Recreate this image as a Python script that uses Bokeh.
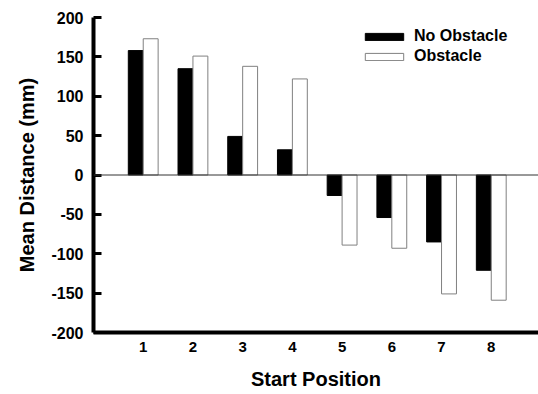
from bokeh.plotting import figure
from bokeh.models import (ColumnDataSource, FixedTicker, Range1d, Span, Legend, LegendItem,
                          PrintfTickFormatter)
from bokeh.transform import dodge
from bokeh.embed import file_html
from bokeh.resources import INLINE

positions = [1, 2, 3, 4, 5, 6, 7, 8]
no_obstacle = [158, 135, 49, 32, -26, -54, -85, -121]
obstacle = [173, 151, 138, 122, -89, -93, -151, -159]
y_ticks = [-200, -150, -100, -50, 0, 50, 100, 150, 200]

src = ColumnDataSource(dict(pos=positions, no_obs=no_obstacle, obs=obstacle))

FONT = "Liberation Sans"

p = figure(width=538, height=394, output_backend="svg", toolbar_location=None,
           x_range=Range1d(0, 8.95), y_range=Range1d(-200, 200),
           min_border_left=93, min_border_right=0, min_border_top=17, min_border_bottom=62)
p.outline_line_color = None
p.xgrid.grid_line_color = None
p.ygrid.grid_line_color = None

zero = Span(location=0, dimension="width", line_color="#333333", line_width=1)
p.add_layout(zero)

r1 = p.vbar(x=dodge("pos", -0.15, range=p.x_range), top="no_obs", width=0.3, bottom=0,
            source=src, fill_color="black", line_color="black", line_width=1)
r2 = p.vbar(x=dodge("pos", 0.15, range=p.x_range), top="obs", width=0.3, bottom=0,
            source=src, fill_color="white", line_color="#808080", line_width=1)

# axes
p.xaxis.ticker = FixedTicker(ticks=positions)
p.xaxis.major_tick_in = 0
p.xaxis.major_tick_out = 0
p.xaxis.minor_tick_line_color = None
p.xaxis.axis_line_width = 4
p.xaxis.axis_line_color = "black"
p.xaxis.major_label_text_font = FONT
p.xaxis.major_label_text_font_style = "bold"
p.xaxis.major_label_text_font_size = "15px"
p.xaxis.major_label_text_color = "black"
p.xaxis.major_label_standoff = 9
p.xaxis.axis_label = "Start Position"
p.xaxis.axis_label_text_font = FONT
p.xaxis.axis_label_text_font_style = "bold"
p.xaxis.axis_label_text_font_size = "20px"
p.xaxis.axis_label_text_color = "black"
p.xaxis.axis_label_standoff = 13

p.yaxis.ticker = FixedTicker(ticks=y_ticks)
p.yaxis.formatter = PrintfTickFormatter(format="%d")
p.yaxis.major_tick_in = 8
p.yaxis.major_tick_out = 0
p.yaxis.major_tick_line_width = 3
p.yaxis.major_tick_line_color = "black"
p.yaxis.minor_tick_line_color = None
p.yaxis.axis_line_width = 4
p.yaxis.axis_line_color = "black"
p.yaxis.major_label_text_font = FONT
p.yaxis.major_label_text_font_style = "bold"
p.yaxis.major_label_text_font_size = "16px"
p.yaxis.major_label_text_color = "black"
p.yaxis.major_label_standoff = 10
p.yaxis.axis_label = "Mean Distance (mm)"
p.yaxis.axis_label_text_font = FONT
p.yaxis.axis_label_text_font_style = "bold"
p.yaxis.axis_label_text_font_size = "20px"
p.yaxis.axis_label_text_color = "black"
p.yaxis.axis_label_standoff = 10

legend = Legend(items=[LegendItem(label="No Obstacle", renderers=[r1]),
                       LegendItem(label="Obstacle", renderers=[r2])],
                location=(267, 266), orientation="vertical",
                padding=0, margin=0, spacing=0,
                glyph_width=48, glyph_height=9, label_height=20, label_standoff=6,
                label_text_font=FONT, label_text_font_style="bold",
                label_text_font_size="16px", label_text_color="black",
                border_line_color=None, background_fill_alpha=0)
p.add_layout(legend)

open("out.html", "w").write(file_html(p, INLINE))
